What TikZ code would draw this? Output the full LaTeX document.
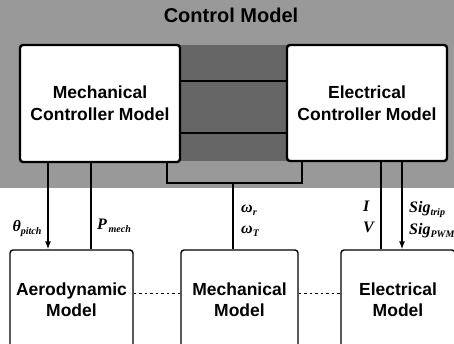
\documentclass[tikz,border=0pt]{standalone}
\usepackage{fontspec}
\setmainfont{Liberation Sans}
\newfontfamily\lserif{Liberation Serif}
\usetikzlibrary{arrows.meta}
\newcommand\mylab[2]{{\lserif\bfseries\itshape\fontsize{16}{16}\selectfont #1\raisebox{-3pt}{\fontsize{10}{10}\selectfont #2}}}
\begin{document}
\begin{tikzpicture}[x=1pt,y=-1pt,
  ctrlbox/.style={draw=black,line width=2.4pt,fill=white,rounded corners=3pt,align=center,
    font=\fontsize{17.5}{22}\selectfont\bfseries,inner sep=0pt},
  modbox/.style={draw=black,line width=1.4pt,fill=white,rounded corners=3pt,align=center,
    font=\fontsize{17.5}{21}\selectfont\bfseries,inner sep=0pt},
  sigline/.style={line width=1.4pt},
  sigarrow/.style={line width=1.4pt,-{Latex[length=8pt,width=6pt]}},
  lab/.style={inner sep=0pt,anchor=center},
  dotline/.style={line width=0.9pt,dash pattern=on 2.5pt off 3pt}]
\useasboundingbox (0,0) rectangle (454,343);
\fill[black!40] (0,0) rectangle (454,188);
\fill[black!60] (180,45) rectangle (287,161);
\node[font=\fontsize{20}{20}\selectfont\bfseries,draw=none] (title) at (231,15) {Control Model};
% controller boxes
\node[ctrlbox,minimum width=160pt,minimum height=117pt] (mcc) at (100,103.5) {Mechanical\\Controller Model};
\node[ctrlbox,minimum width=160pt,minimum height=116pt] (ecc) at (367,103) {Electrical\\Controller Model};
% channel lines
\coordinate (c1) at (0,81);
\coordinate (c2) at (0,133);
\draw[line width=1.8pt] (mcc.east |- c1) -- (ecc.west |- c1);
\draw[line width=1.8pt] (mcc.east |- c2) -- (ecc.west |- c2);
% frame
\coordinate (f1) at (167,183);
\coordinate (f2) at (302,183);
\draw[line width=2pt] (mcc.south -| f1) -- (f1) -- (f2) -- (ecc.south -| f2);
% bottom models
\node[modbox,minimum width=123pt,minimum height=100pt] (aero) at (71.5,300) {Aerodynamic\\Model};
\node[modbox,minimum width=117pt,minimum height=100pt] (mech) at (239.5,300) {Mechanical\\Model};
\node[modbox,minimum width=114pt,minimum height=100pt] (elec) at (398,300) {Electrical\\Model};
% dotted links
\coordinate (d) at (0,293);
\draw[dotline] (aero.east |- d) -- (mech.west |- d);
\draw[dotline] (mech.east |- d) -- (elec.west |- d);
% signals
\coordinate (x1) at (48,0);
\coordinate (x2) at (91,0);
\coordinate (x3) at (233,0);
\coordinate (x4) at (381,0);
\coordinate (x5) at (402,0);
\draw[sigarrow] (mcc.south -| x1) -- (aero.north -| x1);
\draw[sigline] (aero.north -| x2) -- (mcc.south -| x2);
\draw[sigline] (mech.north -| x3) -- (f1 -| x3);
\draw[sigline] (elec.north -| x4) -- (ecc.south -| x4);
\draw[sigarrow] (ecc.south -| x5) -- (elec.north -| x5);
% labels
\node[lab] (lt) at (27,228) {\mylab{θ}{pitch}};
\node[lab] (lp) at (114,226) {\mylab{P}{\,mech}};
\node[lab,anchor=west] (lw1) at (241,210) {\mylab{ω}{r}};
\node[lab,anchor=west] (lw2) at (241,231) {\mylab{ω}{T}};
\node[lab,anchor=west] (li) at (363,208) {\mylab{I}{}};
\node[lab,anchor=west] (lv) at (363,229) {\mylab{V}{}};
\node[lab,anchor=west] (ls1) at (409,210) {\mylab{Sig}{trip}};
\node[lab,anchor=west] (ls2) at (409,231) {\mylab{Sig}{PWM}};
\end{tikzpicture}
\end{document}
